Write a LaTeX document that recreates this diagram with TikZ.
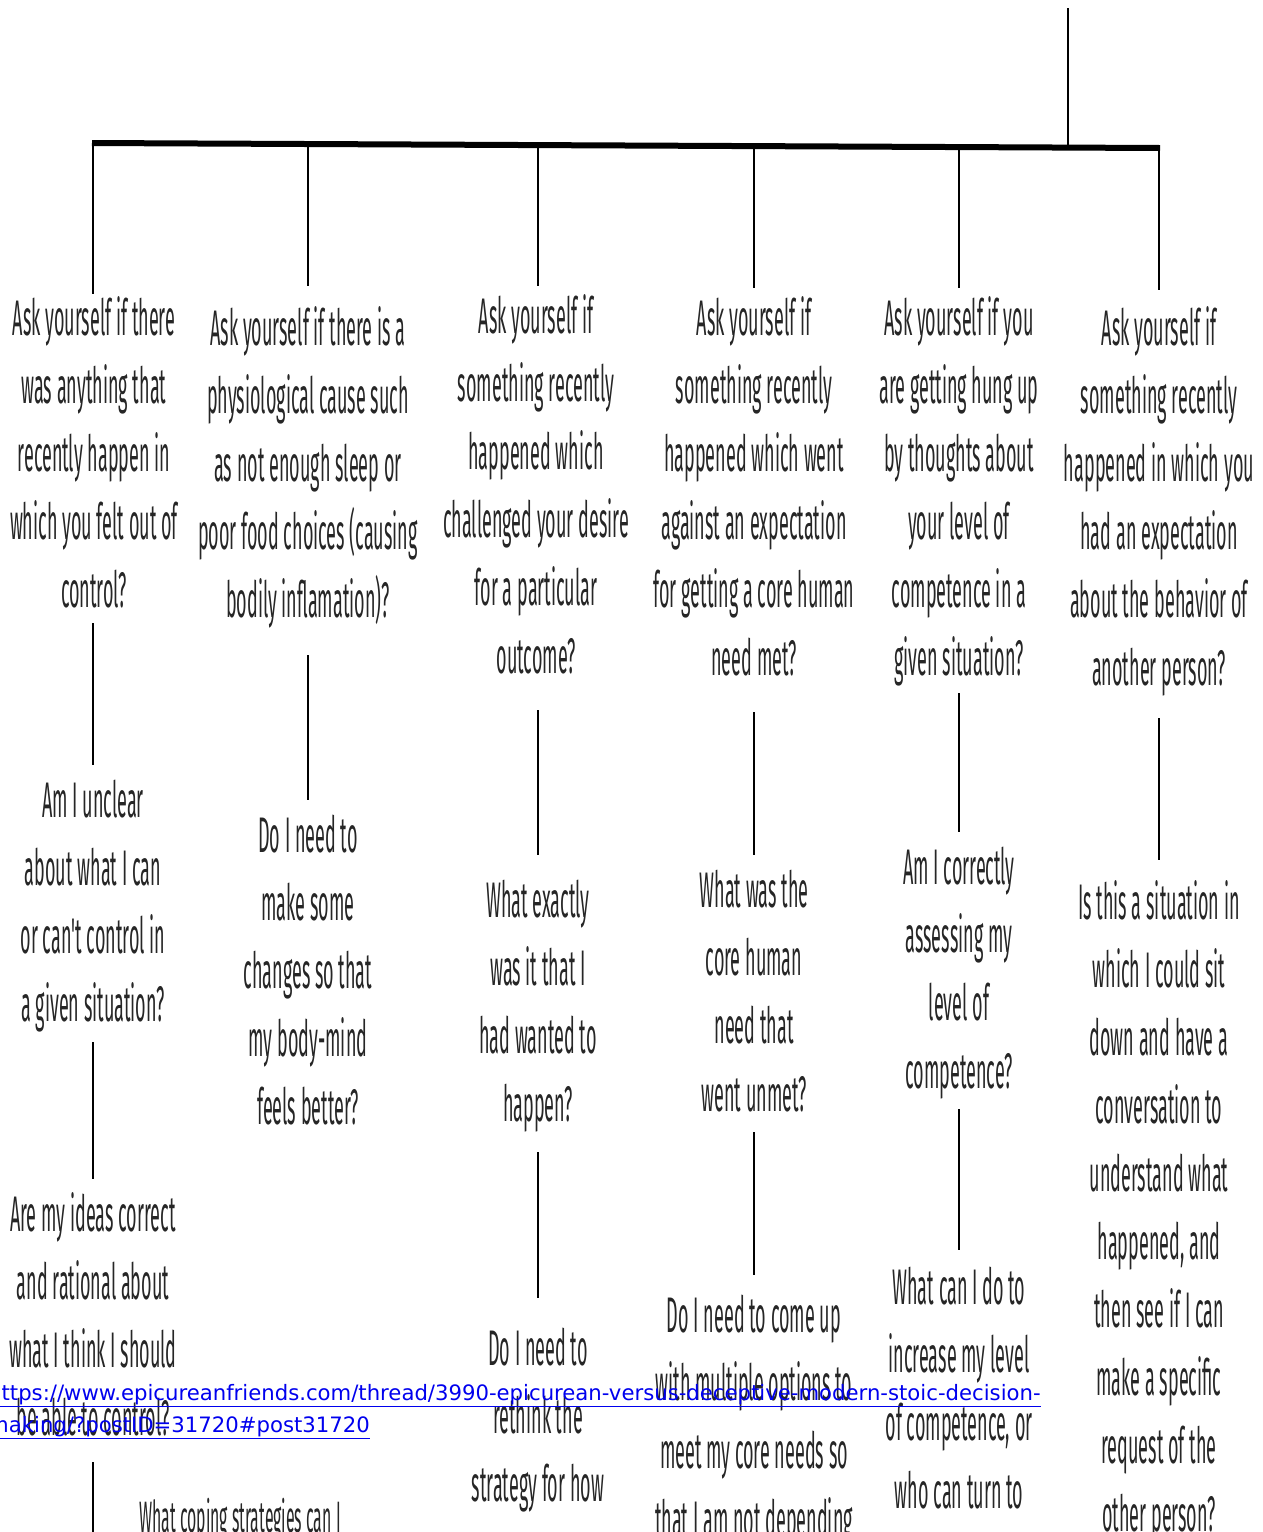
\documentclass[tikz,border=0pt]{standalone}
\usepackage{fontspec}
\newfontfamily\qfamily[FakeStretch=0.36]{Fira Sans}
\newfontfamily\urlfamily{DejaVu Sans}
\newcommand\qfont{\qfamily\fontsize{50}{68}\selectfont}
\newcommand\qsmallfont{\qfamily\fontsize{44}{60}\selectfont}
\definecolor{qtext}{HTML}{262626}
\definecolor{linkblue}{HTML}{0000EE}
\tikzset{
  q/.style={font=\qfont, text=qtext, align=center, inner sep=0pt},
  conn/.style={line width=1.8pt, draw=black},
  barline/.style={line width=6pt, draw=black, line cap=butt},
}
\begin{document}
\begin{tikzpicture}[x=1pt,y=-1pt]
\useasboundingbox[fill=white] (0,0) rectangle (1263,1532);

% bar and top stem
\coordinate (barL) at (92,143);
\coordinate (barR) at (1160,148);
\coordinate (stemTop) at (1068,8);
\coordinate (stemJ) at (1068,147.6);
\draw[barline] (barL) -- (barR);
\draw[line width=1.4pt] (stemTop) -- (stemJ);

\coordinate (d1) at (93,143);
\coordinate (d2) at (308,144);
\coordinate (d3) at (538,145.1);
\coordinate (d4) at (754,146.1);
\coordinate (d5) at (959,147.1);
\coordinate (d6) at (1159,148);

% column 1
\node[q] (t1) at (94,458) {\strut Ask yourself if there\\was anything that\\recently happen in\\which you felt out of\\control?\strut};
\node[q] (m1) at (93,906) {\strut Am I unclear\\about what I can\\or can't control in\\a given situation?\strut};
\node[q] (n1) at (93,1320) {\strut Are my ideas correct\\and rational about\\what I think I should\\be able to control?\strut};
\coordinate (e1) at (93,1545);
\node[font=\qsmallfont, text=qtext, inner sep=0pt] (c1) at (240,1520) {\strut What coping strategies can I};

% column 2
\node[q] (t2) at (308,468) {\strut Ask yourself if there is a\\physiological cause such\\as not enough sleep or\\poor food choices (causing\\bodily inflamation)?\strut};
\node[q] (m2) at (308,975) {\strut Do I need to\\make some\\changes so that\\my body-mind\\feels better?\strut};

% column 3
\node[q] (t3) at (536,490) {\strut Ask yourself if\\something recently\\happened which\\challenged your desire\\for a particular\\outcome?\strut};
\node[q] (m3) at (538,1006) {\strut What exactly\\was it that I\\had wanted to\\happen?\strut};
\node[q] (n3) at (538,1420) {\strut Do I need to\\rethink the\\strategy for how\strut};

% column 4
\node[q] (t4) at (754,492) {\strut Ask yourself if\\something recently\\happened which went\\against an expectation\\for getting a core human\\need met?\strut};
\node[q] (m4) at (754,996) {\strut What was the\\core human\\need that\\went unmet?\strut};
\node[q] (n4) at (754,1421) {\strut Do I need to come up\\with multiple options to\\meet my core needs so\\that I am not depending\strut};

% column 5
\node[q] (t5) at (959,492) {\strut Ask yourself if you\\are getting hung up\\by thoughts about\\your level of\\competence in a\\given situation?\strut};
\node[q] (m5) at (959,973) {\strut Am I correctly\\assessing my\\level of\\competence?\strut};
\node[q] (n5) at (959,1393) {\strut What can I do to\\increase my level\\of competence, or\\who can turn to\strut};

% column 6
\node[q] (t6) at (1159,502) {\strut Ask yourself if\\something recently\\happened in which you\\had an expectation\\about the behavior of\\another person?\strut};
\node[q] (m6) at (1159,1212) {\strut Is this a situation in\\which I could sit\\down and have a\\conversation to\\understand what\\happened, and\\then see if I can\\make a specific\\request of the\\other person?\strut};

% connectors from bar
\draw[conn] (d1) -- ([yshift=-6pt]t1.north -| d1);
\draw[conn, shorten >=12pt] (d2) -- (t2.north);
\draw[conn] (d3) -- (t3.north -| d3);
\draw[conn] (d4) -- (t4.north);
\draw[conn] (d5) -- (t5.north);
\draw[conn, shorten >=8pt] (d6) -- (t6.north);

% vertical connectors
\draw[conn, shorten <=-5pt, shorten >=5pt] (t1.south -| m1) -- (m1.north);
\draw[conn, shorten >=5pt] (m1.south) -- (n1.north);
\draw[conn, shorten <=6pt] (n1.south) -- (e1);
\draw[conn, shorten <=17pt, shorten >=5pt] (t2.south) -- (m2.north);
\draw[conn, shorten <=16pt, shorten >=15pt] (t3.south -| m3) -- (m3.north);
\draw[conn, shorten <=10pt, shorten >=20pt] (m3.south) -- (n3.north);
\draw[conn, shorten <=16pt, shorten >=5pt] (t4.south) -- (m4.north);
\draw[conn, shorten >=10pt] (m4.south) -- (n4.north);
\draw[conn, shorten <=-3pt, shorten >=5pt] (t5.south) -- (m5.north);
\draw[conn, shorten >=7pt] (m5.south) -- (n5.north);
\draw[conn, shorten <=12pt, shorten >=12pt] (t6.south) -- (m6.north);

% link
\node[font=\urlfamily\fontsize{21.2}{32.5}\selectfont, text=linkblue, align=left, anchor=north west, inner sep=0pt] (url) at (-12,1384)
  {\underline{https://www.epicureanfriends.com/thread/3990-epicurean-versus-deceptive-modern-stoic-decision-}\\\underline{making/?postID=31720\#post31720}};
\end{tikzpicture}
\end{document}
